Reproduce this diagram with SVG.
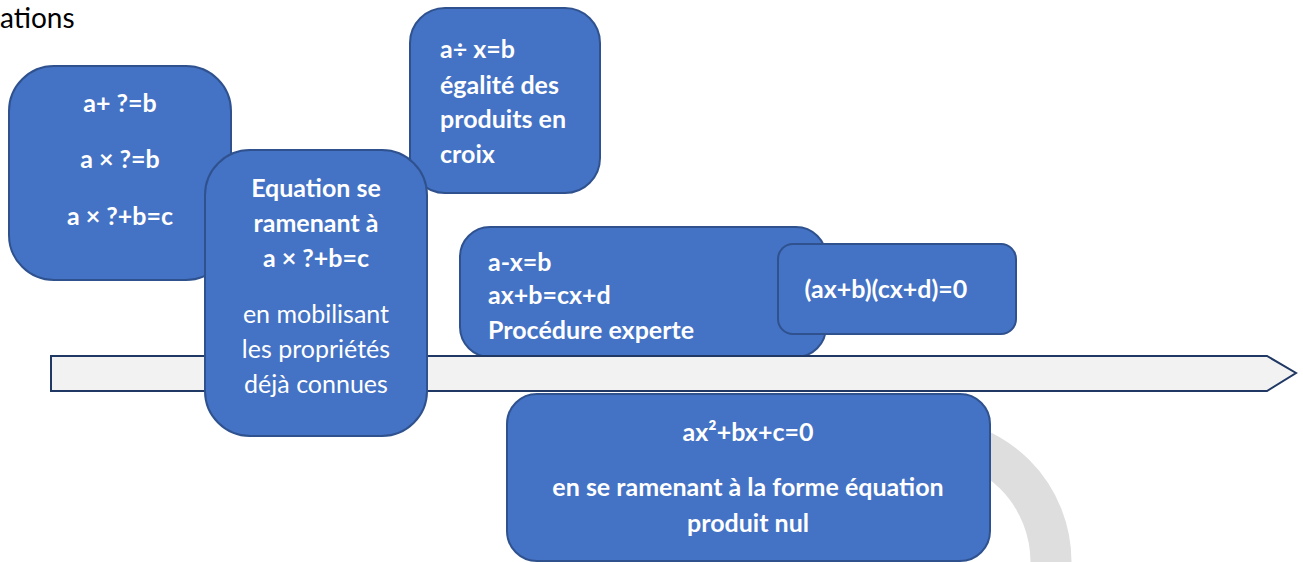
<svg xmlns="http://www.w3.org/2000/svg" width="1303" height="562" viewBox="0 0 1303 562">
<style>
.box{fill:#4472C4;stroke:#2F528F;stroke-width:2}
.t{font-family:Lato,"Liberation Sans",sans-serif;fill:#fff;font-size:25px}
.b{font-weight:bold}
.c{text-anchor:middle}
</style>
<defs>
<clipPath id="clip4"><rect x="460" y="227" width="366" height="116"/></clipPath>
</defs>
<rect width="1303" height="562" fill="#fff"/>
<text x="0" y="28" font-family="Lato,'Liberation Sans',sans-serif" font-size="28" fill="#000">ations</text>
<g id="connectors">
<path d="M927,438 A124,124 0 0 1 1051,562" fill="none" stroke="#DEDEDE" stroke-width="41"/>
</g>
<g id="node1">
<rect class="box" x="9" y="66" width="222" height="214" rx="45"/>
<text class="t b c" x="120" y="112">a+ ?=b</text>
<text class="t b c" x="120" y="168">a × ?=b</text>
<text class="t b c" x="120" y="225">a × ?+b=c</text>
</g>
<g id="node2">
<rect class="box" x="410" y="8" width="190" height="185" rx="35"/>
<text class="t b" x="440" y="58">a÷ x=b</text>
<text class="t b" x="440" y="94">égalité des</text>
<text class="t b" x="440" y="128">produits en</text>
<text class="t b" x="440" y="163">croix</text>
</g>
<g id="node4">
<rect class="box" x="460" y="227" width="366" height="130" rx="30"/>
<g clip-path="url(#clip4)">
<text class="t b" x="488" y="271">a-x=b</text>
<text class="t b" x="488" y="304">ax+b=cx+d</text>
<text class="t b" x="488" y="339">Procédure experte</text>
</g>
</g>
<g id="node5">
<rect class="box" x="778" y="244" width="238" height="90" rx="15"/>
<text class="t b c" x="886" y="298">(ax+b)(cx+d)=0</text>
</g>
<g id="arrow">
<path d="M51,356 L1267,356 L1296,373 L1267,391 L51,391 Z" fill="#F2F2F2" stroke="#203864" stroke-width="2"/>
</g>
<g id="node3">
<rect class="box" x="205" y="150" width="222" height="286" rx="45"/>
<text class="t b c" x="316" y="197">Equation se</text>
<text class="t b c" x="316" y="232">ramenant à</text>
<text class="t b c" x="316" y="267">a × ?+b=c</text>
<text class="t c" x="316" y="323">en mobilisant</text>
<text class="t c" x="316" y="358">les propriétés</text>
<text class="t c" x="316" y="393">déjà connues</text>
</g>
<g id="node6">
<rect class="box" x="507" y="394" width="483" height="167" rx="30"/>
<text class="t b c" x="748" y="441">ax²+bx+c=0</text>
<text class="t b c" x="748" y="496">en se ramenant à la forme équation</text>
<text class="t b c" x="748" y="532">produit nul</text>
</g>
</svg>
